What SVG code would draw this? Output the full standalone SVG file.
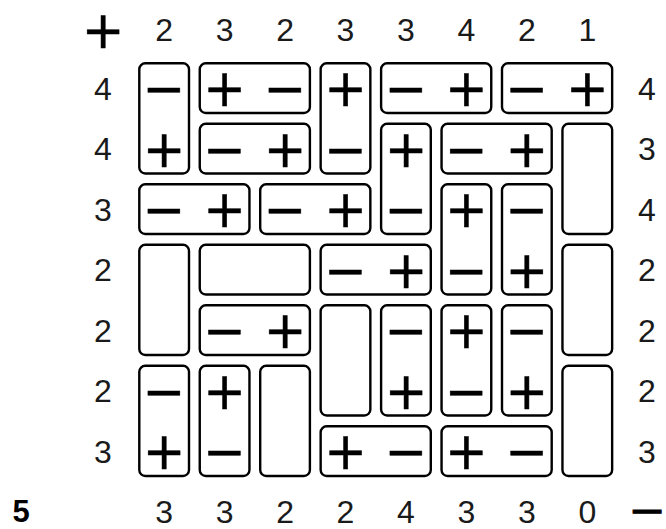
<svg xmlns="http://www.w3.org/2000/svg" width="666" height="529" viewBox="0 0 666 529">
<style>
.b{fill:none;stroke:#000;stroke-width:2.4}
.s{font-family:"DejaVu Sans",sans-serif;font-size:51px;text-anchor:middle;fill:#000;stroke:#000;stroke-width:0.5}
.n{font-family:"Liberation Sans",sans-serif;font-size:32px;text-anchor:middle;fill:#1a1a1a}
</style>
<rect width="666" height="529" fill="#fff"/>
<g id="labels">
<text class="s" x="103" y="47.5">+</text>
<text class="n" x="164.2" y="40.7">2</text><text class="n" x="224.6" y="40.7">3</text><text class="n" x="285.1" y="40.7">2</text><text class="n" x="345.5" y="40.7">3</text><text class="n" x="406" y="40.7">3</text><text class="n" x="466.4" y="40.7">4</text><text class="n" x="526.9" y="40.7">2</text><text class="n" x="587.3" y="40.7">1</text>
<text class="n" x="164.2" y="522.5">3</text><text class="n" x="224.6" y="522.5">3</text><text class="n" x="285.1" y="522.5">2</text><text class="n" x="345.5" y="522.5">2</text><text class="n" x="406" y="522.5">4</text><text class="n" x="466.4" y="522.5">3</text><text class="n" x="526.9" y="522.5">3</text><text class="n" x="587.3" y="522.5">0</text>
<text class="n" x="103" y="99.9">4</text><text class="n" x="103" y="160.4">4</text><text class="n" x="103" y="220.9">3</text><text class="n" x="103" y="281.4">2</text><text class="n" x="103" y="341.9">2</text><text class="n" x="103" y="402.4">2</text><text class="n" x="103" y="462.9">3</text>
<text class="n" x="647" y="99.9">4</text><text class="n" x="647" y="160.4">3</text><text class="n" x="647" y="220.9">4</text><text class="n" x="647" y="281.4">2</text><text class="n" x="647" y="341.9">2</text><text class="n" x="647" y="402.4">2</text><text class="n" x="647" y="462.9">3</text>
<text x="21" y="522" style="font-family:'Liberation Sans',sans-serif;font-size:31px;font-weight:bold;text-anchor:middle;fill:#000">5</text>
<text x="0" y="0" transform="translate(647,521.3) scale(1.5,1)" style="font-family:'DejaVu Sans',sans-serif;font-size:30px;font-weight:bold;text-anchor:middle;fill:#000;stroke:#000;stroke-width:0.6">−</text>
</g>
<g id="d1"><rect class="b" x="139.3" y="63.3" width="49.7" height="110.2" rx="6"/><text class="s" x="164.2" y="106">−</text><text class="s" x="164.2" y="166.5">+</text></g>
<g id="d2"><rect class="b" x="199.75" y="63.3" width="110.15" height="49.7" rx="6"/><text class="s" x="224.6" y="106">+</text><text class="s" x="285.1" y="106">−</text></g>
<g id="d3"><rect class="b" x="320.65" y="63.3" width="49.7" height="110.2" rx="6"/><text class="s" x="345.5" y="106">+</text><text class="s" x="345.5" y="166.5">−</text></g>
<g id="d4"><rect class="b" x="381.1" y="63.3" width="110.15" height="49.7" rx="6"/><text class="s" x="406" y="106">−</text><text class="s" x="466.4" y="106">+</text></g>
<g id="d5"><rect class="b" x="502" y="63.3" width="110.15" height="49.7" rx="6"/><text class="s" x="526.9" y="106">−</text><text class="s" x="587.3" y="106">+</text></g>
<g id="d6"><rect class="b" x="199.75" y="123.8" width="110.15" height="49.7" rx="6"/><text class="s" x="224.6" y="166.5">−</text><text class="s" x="285.1" y="166.5">+</text></g>
<g id="d7"><rect class="b" x="381.1" y="123.8" width="49.7" height="110.2" rx="6"/><text class="s" x="406" y="166.5">+</text><text class="s" x="406" y="227">−</text></g>
<g id="d8"><rect class="b" x="441.55" y="123.8" width="110.15" height="49.7" rx="6"/><text class="s" x="466.4" y="166.5">−</text><text class="s" x="526.9" y="166.5">+</text></g>
<g id="d9"><rect class="b" x="562.45" y="123.8" width="49.7" height="110.2" rx="6"/></g>
<g id="d10"><rect class="b" x="139.3" y="184.3" width="110.15" height="49.7" rx="6"/><text class="s" x="164.2" y="227">−</text><text class="s" x="224.6" y="227">+</text></g>
<g id="d11"><rect class="b" x="260.2" y="184.3" width="110.15" height="49.7" rx="6"/><text class="s" x="285.1" y="227">−</text><text class="s" x="345.5" y="227">+</text></g>
<g id="d12"><rect class="b" x="441.55" y="184.3" width="49.7" height="110.2" rx="6"/><text class="s" x="466.4" y="227">+</text><text class="s" x="466.4" y="287.5">−</text></g>
<g id="d13"><rect class="b" x="502" y="184.3" width="49.7" height="110.2" rx="6"/><text class="s" x="526.9" y="227">−</text><text class="s" x="526.9" y="287.5">+</text></g>
<g id="d14"><rect class="b" x="139.3" y="244.8" width="49.7" height="110.2" rx="6"/></g>
<g id="d15"><rect class="b" x="199.75" y="244.8" width="110.15" height="49.7" rx="6"/></g>
<g id="d16"><rect class="b" x="320.65" y="244.8" width="110.15" height="49.7" rx="6"/><text class="s" x="345.5" y="287.5">−</text><text class="s" x="406" y="287.5">+</text></g>
<g id="d17"><rect class="b" x="562.45" y="244.8" width="49.7" height="110.2" rx="6"/></g>
<g id="d18"><rect class="b" x="199.75" y="305.3" width="110.15" height="49.7" rx="6"/><text class="s" x="224.6" y="348">−</text><text class="s" x="285.1" y="348">+</text></g>
<g id="d19"><rect class="b" x="320.65" y="305.3" width="49.7" height="110.2" rx="6"/></g>
<g id="d20"><rect class="b" x="381.1" y="305.3" width="49.7" height="110.2" rx="6"/><text class="s" x="406" y="348">−</text><text class="s" x="406" y="408.5">+</text></g>
<g id="d21"><rect class="b" x="441.55" y="305.3" width="49.7" height="110.2" rx="6"/><text class="s" x="466.4" y="348">+</text><text class="s" x="466.4" y="408.5">−</text></g>
<g id="d22"><rect class="b" x="502" y="305.3" width="49.7" height="110.2" rx="6"/><text class="s" x="526.9" y="348">−</text><text class="s" x="526.9" y="408.5">+</text></g>
<g id="d23"><rect class="b" x="139.3" y="365.8" width="49.7" height="110.2" rx="6"/><text class="s" x="164.2" y="408.5">−</text><text class="s" x="164.2" y="469">+</text></g>
<g id="d24"><rect class="b" x="199.75" y="365.8" width="49.7" height="110.2" rx="6"/><text class="s" x="224.6" y="408.5">+</text><text class="s" x="224.6" y="469">−</text></g>
<g id="d25"><rect class="b" x="260.2" y="365.8" width="49.7" height="110.2" rx="6"/></g>
<g id="d26"><rect class="b" x="562.45" y="365.8" width="49.7" height="110.2" rx="6"/></g>
<g id="d27"><rect class="b" x="320.65" y="426.3" width="110.15" height="49.7" rx="6"/><text class="s" x="345.5" y="469">+</text><text class="s" x="406" y="469">−</text></g>
<g id="d28"><rect class="b" x="441.55" y="426.3" width="110.15" height="49.7" rx="6"/><text class="s" x="466.4" y="469">+</text><text class="s" x="526.9" y="469">−</text></g>
</svg>
